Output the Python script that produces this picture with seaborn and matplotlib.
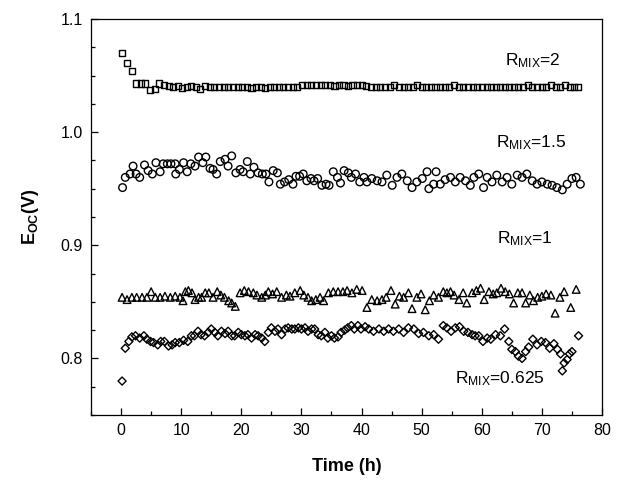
import numpy as np
import pandas as pd
import matplotlib
matplotlib.use("Agg")
import matplotlib.pyplot as plt
import seaborn as sns
from matplotlib.ticker import MultipleLocator

# ---------------- data ----------------
t_r2 = [0.2, 1.0, 1.8, 2.5, 3.3, 4.0, 4.8, 5.6, 6.3, 7.1, 7.9, 8.6, 9.4, 10.2, 10.9, 11.7,
        12.5, 13.2, 14.0, 14.8, 15.5, 16.3, 17.1, 17.8, 18.6, 19.4, 20.1, 20.9, 21.7, 22.4,
        23.2, 24.0, 24.7, 25.5, 26.3, 27.0, 27.8, 28.6, 29.3, 30.1, 30.9, 31.6, 32.4, 33.2,
        33.9, 34.7, 35.5, 36.2, 37.0, 37.8, 38.5, 39.3, 40.1, 40.8, 41.6, 42.4, 43.1, 43.9,
        44.7, 45.4, 46.2, 47.0, 47.7, 48.5, 49.3, 50.0, 50.8, 51.6, 52.3, 53.1, 53.9, 54.6,
        55.4, 56.2, 56.9, 57.7, 58.5, 59.2, 60.0, 60.8, 61.5, 62.3, 63.1, 63.8, 64.6, 65.4,
        66.1, 66.9, 67.7, 68.4, 69.2, 70.0, 70.7, 71.5, 72.3, 73.0, 73.8, 74.6, 75.3, 76.0]
e_r2 = [1.070, 1.061, 1.054, 1.043, 1.043, 1.043, 1.037, 1.038, 1.043, 1.042, 1.041, 1.040,
        1.041, 1.039, 1.040, 1.041, 1.040, 1.038, 1.041, 1.040, 1.0395, 1.0395, 1.0395, 1.0395,
        1.0395, 1.0395, 1.0395, 1.0395, 1.039, 1.040, 1.0395, 1.039, 1.0395, 1.0395, 1.0395,
        1.0395, 1.0395, 1.0395, 1.0395, 1.0415, 1.0415, 1.0415, 1.0415, 1.0415, 1.0415, 1.0415,
        1.041, 1.0415, 1.0415, 1.041, 1.0415, 1.0415, 1.0415, 1.041, 1.0395, 1.0395, 1.0395,
        1.0395, 1.0395, 1.0415, 1.0395, 1.0395, 1.0395, 1.0395, 1.0415, 1.0395, 1.0395, 1.0395,
        1.0395, 1.0395, 1.0395, 1.0395, 1.0415, 1.0395, 1.0395, 1.0395, 1.0395, 1.0395, 1.0395,
        1.0395, 1.0395, 1.0395, 1.0395, 1.0395, 1.0395, 1.0395, 1.0395, 1.0395, 1.0415, 1.0395,
        1.0395, 1.0395, 1.0395, 1.0415, 1.0395, 1.0395, 1.0415, 1.0395, 1.0395, 1.0395]

t_r15 = [0.25, 0.7, 1.5, 2.0, 2.5, 3.1, 3.9, 4.5, 5.2, 5.8, 6.5, 7.0, 7.7, 8.3, 9.0, 9.1,
         9.7, 10.4, 11.0, 11.6, 12.3, 12.9, 13.6, 14.1, 14.8, 15.3, 15.9, 16.5, 17.3, 17.8,
         18.4, 19.1, 19.8, 20.3, 21.0, 21.5, 22.1, 22.8, 23.5, 24.1, 24.6, 25.3, 26.0, 26.5,
         27.2, 27.9, 28.6, 29.1, 29.7, 30.3, 30.9, 31.6, 32.1, 32.7, 33.4, 34.1, 34.6, 35.3,
         36.0, 36.5, 37.1, 37.8, 38.3, 39.0, 39.7, 40.4, 40.9, 41.7, 42.6, 43.4, 44.2, 45.1,
         45.9, 46.7, 47.6, 48.4, 49.2, 50.1, 50.9, 51.2, 52.0, 52.4, 53.1, 53.9, 54.8, 55.6,
         56.4, 57.3, 58.1, 58.7, 59.5, 60.3, 60.9, 61.7, 62.5, 63.4, 64.2, 65.0, 65.9, 66.7,
         67.5, 68.4, 69.2, 70.0, 70.9, 71.7, 72.5, 73.4, 74.2, 75.0, 75.7, 76.4]
e_r15 = [0.951, 0.960, 0.963, 0.970, 0.963, 0.960, 0.971, 0.966, 0.963, 0.973, 0.965, 0.972,
         0.972, 0.972, 0.972, 0.963, 0.967, 0.973, 0.965, 0.972, 0.970, 0.978, 0.973, 0.978,
         0.968, 0.967, 0.963, 0.974, 0.976, 0.970, 0.979, 0.964, 0.967, 0.965, 0.974, 0.963,
         0.969, 0.964, 0.963, 0.963, 0.956, 0.966, 0.964, 0.954, 0.956, 0.958, 0.954, 0.961,
         0.961, 0.963, 0.957, 0.959, 0.957, 0.959, 0.953, 0.954, 0.953, 0.965, 0.960, 0.955,
         0.966, 0.964, 0.960, 0.963, 0.956, 0.960, 0.956, 0.959, 0.957, 0.956, 0.962, 0.953,
         0.960, 0.963, 0.957, 0.951, 0.956, 0.959, 0.965, 0.950, 0.954, 0.965, 0.954, 0.958,
         0.960, 0.956, 0.960, 0.957, 0.953, 0.960, 0.963, 0.951, 0.960, 0.956, 0.962, 0.956,
         0.960, 0.954, 0.962, 0.960, 0.963, 0.957, 0.954, 0.956, 0.954, 0.953, 0.951, 0.949,
         0.954, 0.959, 0.960, 0.954]

t_r1 = [0.17, 1.0, 1.8, 2.6, 3.5, 4.3, 5.0, 5.7, 6.5, 7.3, 8.2, 9.0, 9.8, 10.3, 10.7, 11.2,
        11.8, 12.3, 12.9, 13.4, 14.0, 14.6, 15.3, 16.0, 16.6, 17.2, 17.9, 18.4, 19.0, 19.8,
        20.5, 21.2, 22.0, 22.6, 23.4, 24.0, 24.5, 25.2, 25.9, 26.7, 27.5, 28.1, 28.9, 29.8,
        30.4, 31.1, 31.7, 32.4, 33.1, 33.7, 34.5, 35.3, 36.1, 36.9, 37.6, 38.4, 39.2, 40.1,
        40.9, 41.7, 42.6, 43.4, 44.1, 44.9, 45.6, 46.3, 47.0, 47.8, 48.4, 49.2, 49.9, 50.6,
        51.3, 52.0, 52.8, 53.6, 54.2, 54.8, 55.4, 56.2, 56.9, 57.5, 58.4, 59.1, 59.8, 60.4,
        61.2, 61.9, 62.5, 63.2, 63.9, 64.6, 65.3, 66.0, 66.7, 67.3, 68.0, 68.6, 69.3, 70.0,
        70.7, 71.5, 72.2, 73.0, 73.7, 74.8, 75.7]
e_r1 = [0.854, 0.852, 0.854, 0.854, 0.854, 0.854, 0.859, 0.854, 0.854, 0.855, 0.854, 0.855,
        0.854, 0.851, 0.859, 0.860, 0.858, 0.852, 0.854, 0.854, 0.858, 0.858, 0.854, 0.859,
        0.856, 0.854, 0.851, 0.849, 0.846, 0.858, 0.860, 0.859, 0.858, 0.856, 0.854, 0.856,
        0.859, 0.857, 0.859, 0.854, 0.856, 0.855, 0.858, 0.860, 0.856, 0.854, 0.851, 0.852,
        0.854, 0.851, 0.858, 0.859, 0.859, 0.859, 0.860, 0.858, 0.861, 0.860, 0.845, 0.852,
        0.851, 0.852, 0.854, 0.860, 0.848, 0.855, 0.854, 0.858, 0.844, 0.854, 0.857, 0.843,
        0.851, 0.856, 0.854, 0.859, 0.858, 0.859, 0.856, 0.852, 0.858, 0.849, 0.858, 0.860,
        0.862, 0.852, 0.859, 0.857, 0.858, 0.862, 0.859, 0.857, 0.849, 0.858, 0.858, 0.849,
        0.856, 0.851, 0.854, 0.855, 0.857, 0.856, 0.840, 0.854, 0.859, 0.845, 0.861]

t_r0625 = [0.17, 0.7, 1.3, 1.8, 2.4, 3.1, 3.8, 4.3, 4.9, 5.4, 6.1, 6.6, 7.2, 7.9, 8.5, 9.0,
           9.7, 10.4, 11.1, 11.7, 12.2, 12.8, 13.3, 13.9, 14.5, 15.0, 15.6, 16.1, 16.7, 17.3,
           17.8, 18.4, 18.9, 19.5, 20.0, 20.6, 21.1, 21.7, 22.3, 22.8, 23.4, 23.9, 24.5, 25.0,
           25.6, 26.1, 26.7, 27.3, 27.8, 28.4, 28.9, 29.5, 30.0, 30.6, 31.1, 31.7, 32.2, 32.8,
           33.3, 33.9, 34.4, 35.0, 35.5, 36.1, 36.6, 37.2, 37.7, 38.3, 38.8, 39.4, 39.9, 40.6,
           41.2, 42.0, 42.9, 43.7, 44.5, 45.3, 46.2, 47.0, 47.8, 48.7, 49.5, 50.3, 51.2, 52.0,
           52.8, 53.6, 54.2, 54.9, 55.6, 56.3, 57.0, 57.7, 58.4, 58.9, 59.5, 60.2, 60.9, 61.5,
           62.3, 63.1, 63.8, 64.5, 65.0, 65.6, 66.1, 66.7, 67.3, 67.8, 68.5, 69.2, 69.9, 70.6,
           71.3, 72.0, 72.6, 73.1, 73.4, 73.7, 74.2, 74.6, 75.0, 76.1]
e_r0625 = [0.780, 0.809, 0.815, 0.819, 0.820, 0.818, 0.820, 0.817, 0.815, 0.814, 0.812, 0.815,
           0.815, 0.811, 0.812, 0.814, 0.814, 0.816, 0.815, 0.820, 0.820, 0.824, 0.821, 0.820,
           0.823, 0.826, 0.823, 0.820, 0.824, 0.822, 0.824, 0.820, 0.820, 0.823, 0.821, 0.820,
           0.821, 0.818, 0.821, 0.820, 0.818, 0.815, 0.823, 0.827, 0.824, 0.826, 0.821, 0.826,
           0.827, 0.826, 0.826, 0.827, 0.826, 0.827, 0.824, 0.826, 0.826, 0.821, 0.820, 0.823,
           0.818, 0.820, 0.818, 0.819, 0.823, 0.825, 0.827, 0.829, 0.826, 0.829, 0.826, 0.828,
           0.826, 0.824, 0.826, 0.824, 0.826, 0.824, 0.826, 0.823, 0.827, 0.826, 0.822, 0.823,
           0.820, 0.821, 0.817, 0.829, 0.827, 0.824, 0.827, 0.828, 0.824, 0.823, 0.821, 0.820,
           0.820, 0.815, 0.818, 0.817, 0.821, 0.820, 0.826, 0.815, 0.808, 0.806, 0.802, 0.800,
           0.806, 0.810, 0.817, 0.812, 0.815, 0.814, 0.809, 0.813, 0.808, 0.804, 0.789, 0.796,
           0.799, 0.804, 0.806, 0.820]

labels = [r"R$_{\mathrm{MIX}}$=2", r"R$_{\mathrm{MIX}}$=1.5",
          r"R$_{\mathrm{MIX}}$=1", r"R$_{\mathrm{MIX}}$=0.625"]
label_pos = [(63.9, 1.0636), (62.3, 0.991), (62.6, 0.9057), (55.6, 0.7823)]

x_ticks = [0, 10, 20, 30, 40, 50, 60, 70, 80]
y_ticks = [0.8, 0.9, 1.0, 1.1]

# ---------------- style ----------------
sns.set_theme(style="white")
plt.rcParams["font.family"] = ["Liberation Sans", "DejaVu Sans"]
plt.rcParams["mathtext.fontset"] = "custom"
plt.rcParams["mathtext.rm"] = "Liberation Sans"
plt.rcParams["mathtext.it"] = "Liberation Sans:italic"
plt.rcParams["mathtext.bf"] = "Liberation Sans:bold"
for k in ["text.color", "axes.labelcolor", "xtick.color", "ytick.color", "axes.edgecolor"]:
    plt.rcParams[k] = "black"

fig = plt.figure(figsize=(6.37, 4.82), dpi=100)
ax = fig.add_axes([91 / 637, 1 - 415 / 482, (602 - 91) / 637, (415 - 19) / 482])

series = [
    (t_r2, e_r2, "s", 19),
    (t_r15, e_r15, "o", 30),
    (t_r1, e_r1, "^", 30),
    (t_r0625, e_r0625, "D", 17),
]
for t, e, m, s in series:
    df = pd.DataFrame({"t": t, "e": e})
    sns.scatterplot(data=df, x="t", y="e", marker=m, s=s, facecolor="none",
                    edgecolor="black", linewidth=1.0, ax=ax, legend=False, zorder=3)

for txt, (x, y) in zip(labels, label_pos):
    ax.text(x, y, txt, fontsize=12.5, ha="left", va="center", color="black")

ax.set_xlim(-5, 80)
ax.set_ylim(0.75, 1.1)
ax.set_xticks(x_ticks)
ax.set_yticks(y_ticks)
ax.set_xticklabels([str(v) for v in x_ticks])
ax.set_yticklabels([f"{v:.1f}" for v in y_ticks])
ax.xaxis.set_minor_locator(MultipleLocator(5))
ax.yaxis.set_minor_locator(MultipleLocator(0.025))
ax.tick_params(axis="both", which="major", direction="in", length=5, width=0.9,
               labelsize=11.5, colors="black", bottom=True, left=True, top=False, right=False, pad=6)
ax.tick_params(axis="both", which="minor", direction="in", length=3, width=0.9,
               bottom=True, left=True, top=False, right=False)
for sp in ax.spines.values():
    sp.set_color("black")
    sp.set_linewidth(0.9)

ax.set_xlabel("Time (h)", fontsize=13, fontweight="bold", labelpad=14)
ax.set_ylabel(r"E$_{\mathbf{OC}}$(V)", fontsize=13, fontweight="bold", labelpad=14)

fig.savefig("out.png", dpi=100)
